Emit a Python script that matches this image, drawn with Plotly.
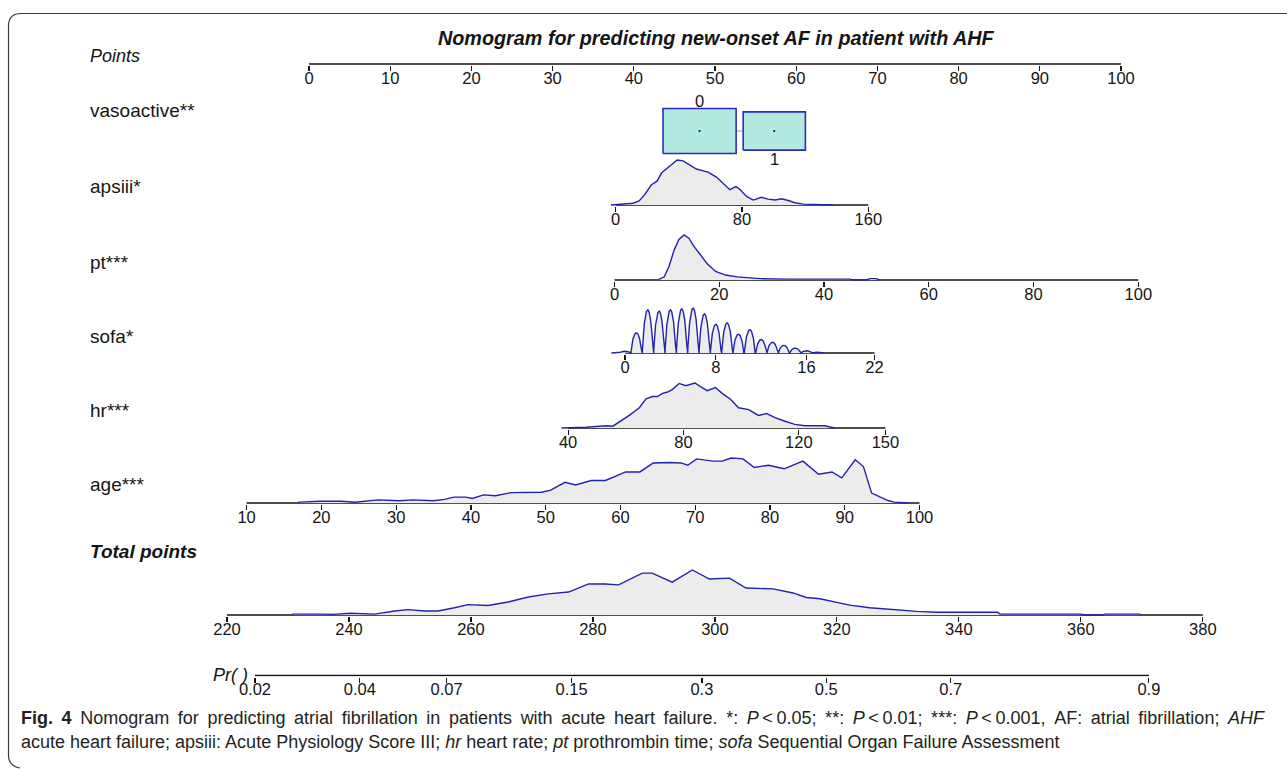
import math
import numpy as np
import plotly.graph_objects as go

W, H = 1287, 769

# ------------------------------------------------------------------ data
points_ticks = [0, 10, 20, 30, 40, 50, 60, 70, 80, 90, 100]

vaso_levels = ["0", "1"]
vaso_points = [48.1, 57.3]          # points position of each level
vaso_freq = [0.58, 0.42]            # relative frequency (box area)

apsiii_ticks = [0, 80, 160]
apsiii_x = [-3.0, 4.7, 11.0, 14.8, 18.4, 22.6, 26.2, 29.0, 32.1, 35.3, 38.9, 42.7, 46.9,
            51.1, 54.3, 58.5, 63.8, 69.1, 72.3, 76.1, 78.6, 82.9, 87.1, 92.4, 96.6, 100.9,
            105.1, 109.3, 113.5, 118.8, 125.2, 134.7, 137.6]
apsiii_d = [0, 0.015, 0.04, 0.09, 0.23, 0.45, 0.53, 0.71, 0.80, 0.88, 1.0, 0.98, 0.88,
            0.80, 0.77, 0.73, 0.62, 0.45, 0.34, 0.41, 0.35, 0.19, 0.11, 0.17, 0.13, 0.11,
            0.14, 0.10, 0.05, 0.02, 0.015, 0.01, 0]

pt_ticks = [0, 20, 40, 60, 80, 100]
pt_x = [8.5, 9.5, 10.4, 11.4, 12.3, 13.3, 14.2, 15.2, 16.4, 17.7, 19.3, 21.2, 23.4, 25.9,
        27.8, 32.9, 44.9, 45.5, 48.0, 48.8, 50.0, 50.6]
pt_d = [0.015, 0.07, 0.30, 0.67, 0.90, 1.0, 0.93, 0.74, 0.56, 0.36, 0.19, 0.11, 0.07, 0.05,
        0.03, 0.02, 0.02, 0, 0, 0.03, 0.03, 0]

sofa_ticks = [0, 8, 16, 22]
sofa_score = list(range(0, 18))
sofa_height = [0.04, 0.45, 0.96, 0.93, 0.96, 0.98, 1.0, 0.87, 0.64, 0.67, 0.42, 0.52,
               0.30, 0.24, 0.17, 0.11, 0.05, 0.02]

hr_ticks = [40, 80, 120, 150]
hr_x = [37.7, 46.3, 50.9, 53.2, 55.5, 57.8, 61.2, 64.7, 67.0, 69.3, 71.0, 72.7, 74.5, 76.2,
        78.5, 80.8, 82.5, 84.0, 85.9, 88.2, 91.1, 93.4, 96.3, 99.1, 102.6, 106.0, 108.9,
        111.7, 115.2, 118.6, 122.1, 126.7, 128.9, 132.4]
hr_d = [0, 0.015, 0.04, 0.05, 0.04, 0.13, 0.28, 0.45, 0.65, 0.70, 0.70, 0.77, 0.80, 0.86,
        0.99, 0.94, 0.98, 1.0, 0.92, 0.83, 0.90, 0.77, 0.64, 0.45, 0.41, 0.28, 0.32,
        0.23, 0.15, 0.08, 0.05, 0.05, 0.05, 0]

age_ticks = [10, 20, 30, 40, 50, 60, 70, 80, 90, 100]
age_x = [16.9, 17.0, 19.9, 22.7, 24.5, 27.6, 30.4, 32.2, 35.0, 36.5, 37.7, 39.3, 40.2, 41.7,
         43.3, 45.4, 49.4, 50.6, 52.6, 54.0, 56.1, 58.0, 60.7, 62.6, 64.4, 66.6, 68.1,
         69.0, 70.2, 72.4, 73.6, 74.8, 76.4, 77.9, 79.8, 81.9, 84.4, 86.5, 88.3, 89.6,
         91.4, 92.5, 93.6, 95.7, 96.6, 98.3, 98.5]
age_d = [0, 0.02, 0.04, 0.04, 0.015, 0.07, 0.05, 0.07, 0.05, 0.08, 0.13, 0.13, 0.10, 0.18,
         0.16, 0.23, 0.24, 0.28, 0.46, 0.40, 0.50, 0.50, 0.69, 0.69, 0.89, 0.90, 0.89,
         0.84, 0.98, 0.93, 0.93, 1.0, 0.98, 0.79, 0.84, 0.76, 0.93, 0.64, 0.69, 0.56,
         0.96, 0.81, 0.22, 0.06, 0.02, 0.015, 0]

total_ticks = [220, 240, 260, 280, 300, 320, 340, 360, 380]
total_x = [230.7, 230.8, 235.9, 237.4, 240.3, 244.2, 247.5, 249.7, 252.4, 254.6, 257.3,
           259.5, 262.8, 266.1, 269.4, 272.7, 276.0, 279.3, 282.0, 284.2, 288.1, 289.7,
           293.0, 296.3, 299.1, 302.4, 305.1, 309.5, 312.8, 315.0, 317.2, 319.4, 322.1,
           325.4, 328.7, 333.1, 336.4, 346.3, 346.8, 360.0, 360.6, 363.6, 363.9, 369.6,
           369.9]
total_d = [0, 0.02, 0.02, 0.015, 0.04, 0.02, 0.09, 0.12, 0.09, 0.09, 0.16, 0.23, 0.21,
           0.29, 0.40, 0.47, 0.51, 0.69, 0.69, 0.67, 0.93, 0.93, 0.73, 1.0, 0.80, 0.82,
           0.60, 0.58, 0.49, 0.39, 0.36, 0.29, 0.22, 0.16, 0.12, 0.08, 0.06, 0.06, 0.02,
           0.02, 0, 0, 0.02, 0.02, 0]

pr_ticks = [0.02, 0.04, 0.07, 0.15, 0.3, 0.5, 0.7, 0.9]
pr_labels = ["0.02", "0.04", "0.07", "0.15", "0.3", "0.5", "0.7", "0.9"]

row_labels = ["vasoactive**", "apsiii*", "pt***", "sofa*", "hr***", "age***"]

# ------------------------------------------------------------------ style
BLUE = "#2222aa"
FILL = "#ececec"
BLACK = "#151515"
DH = 45.0
LABEL_FONT = "Liberation Sans, Arial, sans-serif"
TICK_FONT = dict(family=LABEL_FONT, size=16.5, color=BLACK)


def fx(px):
    return px / W


def fy(py):
    return 1 - py / H


def logit(p):
    return math.log(p / (1 - p))


fig = go.Figure()
layout = {}
annotations = []


def add_row(k, cal, base, ticks, lo, hi, ticktext=None, cx=None, cy=None):
    v0, p0, v1, p1 = cal
    s = (p1 - p0) / (v1 - v0)
    xname = "xaxis" if k == 1 else f"xaxis{k}"
    yname = "yaxis" if k == 1 else f"yaxis{k}"
    xref = "x" if k == 1 else f"x{k}"
    yref = "y" if k == 1 else f"y{k}"
    layout[xname] = dict(
        domain=[fx(p0 + (lo - v0) * s), fx(p0 + (hi - v0) * s)], range=[lo, hi],
        anchor=yref, showline=False, showgrid=False, zeroline=False,
        ticks="outside", ticklen=5, tickwidth=1.2, tickcolor=BLACK,
        tickmode="array", tickvals=ticks, ticktext=ticktext, ticklabelstandoff=-7,
        tickfont=TICK_FONT, fixedrange=True, automargin=False)
    layout[yname] = dict(domain=[fy(base + 1), fy(base - DH - 2)],
                         range=[-1 / DH, (DH + 2) / DH], visible=False,
                         anchor=xref, fixedrange=True)
    fig.add_trace(go.Scatter(x=[min(ticks), max(ticks)], y=[0, 0], xaxis=xref, yaxis=yref,
                             mode="lines", line=dict(color=BLACK, width=1.5),
                             hoverinfo="skip"))
    if cx is not None:
        fig.add_trace(go.Scatter(x=cx, y=cy, xaxis=xref, yaxis=yref, mode="lines",
                                 fill="tozeroy", fillcolor=FILL,
                                 line=dict(color=BLUE, width=1.4), hoverinfo="skip"))


PTS_CAL = (0, 309, 100, 1121)

# Points scale
add_row(1, PTS_CAL, 64, points_ticks, -1, 101)

# vasoactive boxes (on the points scale)
v0, p0, v1, p1 = PTS_CAL
sx = (p1 - p0) / (v1 - v0)
VC = 131
layout["xaxis2"] = dict(domain=[fx(p0 + (40 - v0) * sx), fx(p0 + (66 - v0) * sx)],
                        range=[40, 66], anchor="y2", visible=False, fixedrange=True)
layout["yaxis2"] = dict(domain=[fy(VC + 50), fy(VC - 50)], range=[-50, 50],
                        anchor="x2", visible=False, fixedrange=True)
fig.add_trace(go.Scatter(x=vaso_points, y=[0, 0], xaxis="x2", yaxis="y2", mode="lines",
                         line=dict(color="#9a9a9a", width=1), hoverinfo="skip"))
for i, (c, f) in enumerate(zip(vaso_points, vaso_freq)):
    hw = 48 * math.sqrt(f) / sx
    hh = 29.5 * math.sqrt(f)
    fig.add_trace(go.Scatter(x=[c - hw, c + hw, c + hw, c - hw, c - hw],
                             y=[-hh, -hh, hh, hh, -hh], xaxis="x2", yaxis="y2",
                             mode="lines", fill="toself", fillcolor="#b3eadf",
                             line=dict(color="#2a2ac6", width=1.6), hoverinfo="skip"))
    ty = hh + 8 if i == 0 else -(hh + 9)
    annotations.append(dict(x=c, y=ty, xref="x2", yref="y2", text=vaso_levels[i],
                            showarrow=False, xanchor="center", yanchor="middle",
                            font=TICK_FONT))
fig.add_trace(go.Scatter(x=vaso_points, y=[0, 0], xaxis="x2", yaxis="y2", mode="markers",
                         marker=dict(color="black", size=2), hoverinfo="skip"))

# sofa density rendered from the per-score peak heights (arch-shaped kernel)
sofa_grid = np.linspace(-1.2, 17.6, 1881)
sofa_curve = np.zeros_like(sofa_grid)
for sc, hgt in zip(sofa_score, sofa_height):
    u = np.clip(1 - ((sofa_grid - sc) / 0.47) ** 2, 0, None)
    sofa_curve += hgt * u ** 0.75

add_row(3, (0, 615.7, 160, 868.3), 205, apsiii_ticks, -4, 168, cx=apsiii_x, cy=apsiii_d)
add_row(4, (0, 614.5, 100, 1138.3), 280, pt_ticks, -1, 101.5, cx=pt_x, cy=pt_d)
add_row(5, (0, 625, 22, 874.5), 353, sofa_ticks, -1.5, 22.5, cx=sofa_grid, cy=sofa_curve)
add_row(6, (40, 568.1, 150, 885.4), 428, hr_ticks, 36, 152, cx=hr_x, cy=hr_d)
add_row(7, (10, 246.6, 100, 919.5), 503, age_ticks, 9, 101, cx=age_x, cy=age_d)
add_row(8, (220, 227, 380, 1202.8), 615, total_ticks, 218, 382, cx=total_x, cy=total_d)
pr_lx = [logit(p) for p in pr_ticks]
add_row(9, (0, 826.3, 1, 973.1), 675.5, pr_lx, pr_lx[0] - 0.06, pr_lx[-1] + 0.06,
        ticktext=pr_labels)

# ------------------------------------------------------------------ texts
def text(px, py, s, size, anchor="left", family=LABEL_FONT, color=BLACK):
    annotations.append(dict(x=fx(px), y=fy(py), xref="paper", yref="paper", text=s,
                            showarrow=False, xanchor=anchor, yanchor="middle",
                            font=dict(family=family, size=size, color=color)))


text(716.5, 38, "<b><i>Nomogram for predicting new-onset AF in patient with AHF</i></b>",
     19.8, anchor="center")
text(88, 56, "<i>Points</i>", 18)
for lab, py in zip(row_labels, [111, 186, 262, 336, 410, 485]):
    text(88, py, lab, 19)
text(88, 551, "<b><i>Total points</i></b>", 19)
text(250, 675, "<i>Pr( )</i>", 18, anchor="right")

CAP = "#231f20"
SP = " \u2009"   # slightly stretched (justified) word spacing of the first caption line
words1 = ["<b>Fig.", "4</b>", "Nomogram", "for", "predicting", "atrial", "fibrillation", "in",
          "patients", "with", "acute", "heart", "failure.", "*:",
          "<i>P</i>\u2009&lt;\u20090.05;", "**:", "<i>P</i>\u2009&lt;\u20090.01;", "***:",
          "<i>P</i>\u2009&lt;\u20090.001,", "AF:", "atrial", "fibrillation;", "<i>AHF</i>"]
text(19, 718, SP.join(words1), 18, color=CAP)
text(19, 742, "acute heart failure; apsiii: Acute Physiology Score III; <i>hr</i> heart rate; "
     "<i>pt</i> prothrombin time; <i>sofa</i> Sequential Organ Failure Assessment", 18,
     color=CAP)

# rounded frame
path = (f"M {fx(1290)},{fy(13.5)} L {fx(21)},{fy(13.5)} "
        f"Q {fx(8.5)},{fy(13.5)} {fx(8.5)},{fy(26)} L {fx(8.5)},{fy(755)} "
        f"Q {fx(8.5)},{fy(766)} {fx(20)},{fy(768)}")
shapes = [dict(type="path", path=path, xref="paper", yref="paper",
               line=dict(color="#3a3a3a", width=1.2))]

fig.update_layout(
    **layout,
    annotations=annotations, shapes=shapes,
    width=W, height=H, margin=dict(l=0, r=0, t=0, b=0),
    template="none", showlegend=False, hovermode=False,
    paper_bgcolor="white", plot_bgcolor="rgba(0,0,0,0)",
    font=dict(family=LABEL_FONT, color=BLACK),
)
fig.write_html("out.html", config={"displayModeBar": False, "staticPlot": True})
